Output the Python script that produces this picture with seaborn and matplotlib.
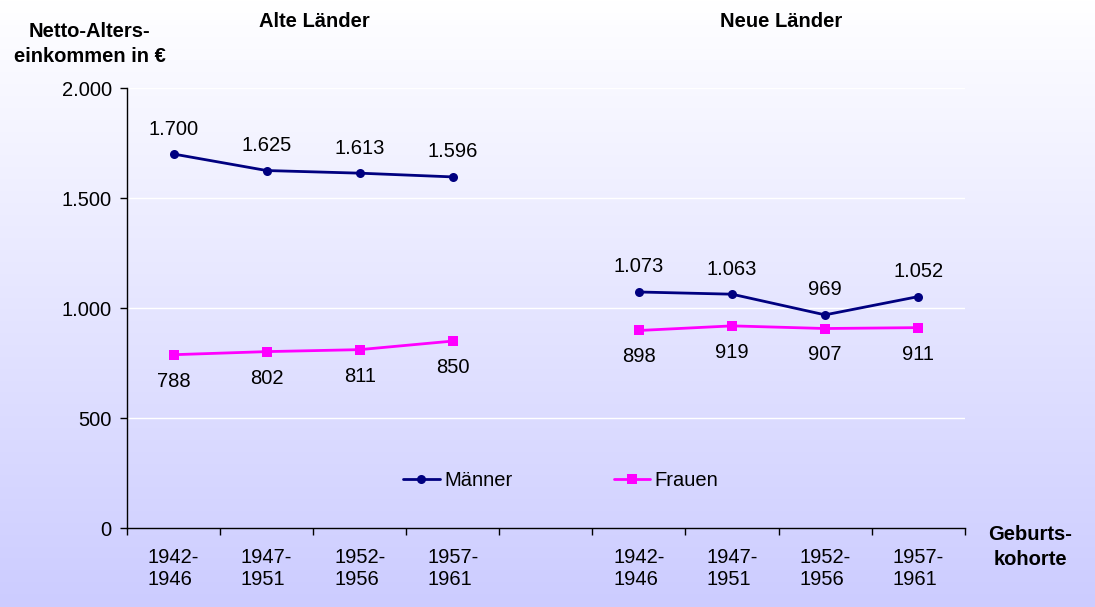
import numpy as np
import pandas as pd
import matplotlib
matplotlib.use("Agg")
import matplotlib.pyplot as plt
import seaborn as sns

# ---- data ----
cohorts = ["1942-\n1946", "1947-\n1951", "1952-\n1956", "1957-\n1961"]
regions = ["Alte Länder", "Neue Länder"]
maenner_alt = [1700, 1625, 1613, 1596]
frauen_alt = [788, 802, 811, 850]
maenner_neu = [1073, 1063, 969, 1052]
frauen_neu = [898, 919, 907, 911]
yticks = [0, 500, 1000, 1500, 2000]
ytick_labels = ["0", "500", "1.000", "1.500", "2.000"]

def fmt(v):
    return f"{v:,}".replace(",", ".")

rows = []
for reg, offset, m, f in [(regions[0], 0, maenner_alt, frauen_alt),
                          (regions[1], 5, maenner_neu, frauen_neu)]:
    for i in range(4):
        rows.append(dict(region=reg, pos=offset + i, cohort=cohorts[i], serie="Männer", value=m[i]))
        rows.append(dict(region=reg, pos=offset + i, cohort=cohorts[i], serie="Frauen", value=f[i]))
df = pd.DataFrame(rows)

sns.set_theme(style="white")
plt.rcParams['font.family'] = ['Liberation Sans', 'DejaVu Sans']
plt.rcParams['text.color'] = 'black'
plt.rcParams['xtick.color'] = 'black'
plt.rcParams['ytick.color'] = 'black'

FS = 14.5

fig = plt.figure(figsize=(10.95, 6.07), dpi=100)

# gradient background
bg = fig.add_axes([0, 0, 1, 1], zorder=-10)
grad = np.linspace(0, 1, 256)[:, None]
top = np.array([1.0, 1.0, 1.0])
bot = np.array([204, 204, 255]) / 255
img = top[None, None, :] * (1 - grad[..., None]) + bot[None, None, :] * grad[..., None]
bg.imshow(img, aspect="auto", extent=[0, 1, 0, 1], origin="upper")
bg.axis("off")

ax = fig.add_axes([0.116, 0.130, 0.765, 0.725])
ax.patch.set_alpha(0)

colors = {"Männer": "#000080", "Frauen": "#FF00FF"}
markers = {"Männer": "o", "Frauen": "s"}

for reg in regions:
    sub = df[df.region == reg]
    sns.lineplot(data=sub, x="pos", y="value", hue="serie", style="serie",
                 palette=colors, markers=markers, dashes=False,
                 markersize=6.5, linewidth=2, markeredgewidth=0,
                 ax=ax, legend=(reg == regions[0]), zorder=3)

# data labels
for _, r in df.iterrows():
    dy = 18 if r.serie == "Männer" else -19
    ax.annotate(fmt(r.value), (r.pos, r.value), xytext=(0, dy), textcoords="offset points",
                ha="center", va="center", fontsize=FS, color="black")

ax.set_xlim(-0.5, 8.5)
ax.set_ylim(0, 2000)
ax.set_yticks(yticks)
ax.set_yticklabels(ytick_labels, fontsize=FS)
ax.set_xticks([0, 1, 2, 3, 5, 6, 7, 8])
ax.set_xticklabels(cohorts * 2, fontsize=FS)
for t in ax.get_xticklabels():
    t.set_multialignment("left")
ax.set_xticks(np.arange(-0.5, 9, 1), minor=True)
ax.tick_params(axis="x", which="major", length=0, pad=14, labelcolor="black")
ax.tick_params(axis="x", which="minor", length=5, width=1, color="black", direction="out", bottom=True)
ax.tick_params(axis="y", length=5, width=1, color="black", direction="out", left=True, pad=6,
               labelcolor="black")
for yv in yticks[1:]:
    ax.axhline(yv, color="white", linewidth=1, zorder=1)
ax.grid(False)
sns.despine(ax=ax, top=True, right=True)
for s in ["left", "bottom"]:
    ax.spines[s].set_color("black")
    ax.spines[s].set_linewidth(1)
ax.set_xlabel("")
ax.set_ylabel("")

leg = ax.legend(loc="center", bbox_to_anchor=(0.518, 0.109), ncol=2, frameon=False,
                fontsize=FS, columnspacing=5.0, handlelength=1.8, handletextpad=0.25)
for t in leg.get_texts():
    t.set_color("black")

fig.text(0.287, 0.965, "Alte Länder", ha="center", va="center", fontsize=FS, fontweight="bold")
fig.text(0.713, 0.965, "Neue Länder", ha="center", va="center", fontsize=FS, fontweight="bold")
fig.text(0.082, 0.928, "Netto-Alters-\neinkommen in €", ha="center", va="center",
         fontsize=FS, fontweight="bold", linespacing=1.4)
fig.text(0.941, 0.099, "Geburts-\nkohorte", ha="center", va="center",
         fontsize=FS, fontweight="bold", linespacing=1.4)

fig.savefig("out.png", dpi=100)
